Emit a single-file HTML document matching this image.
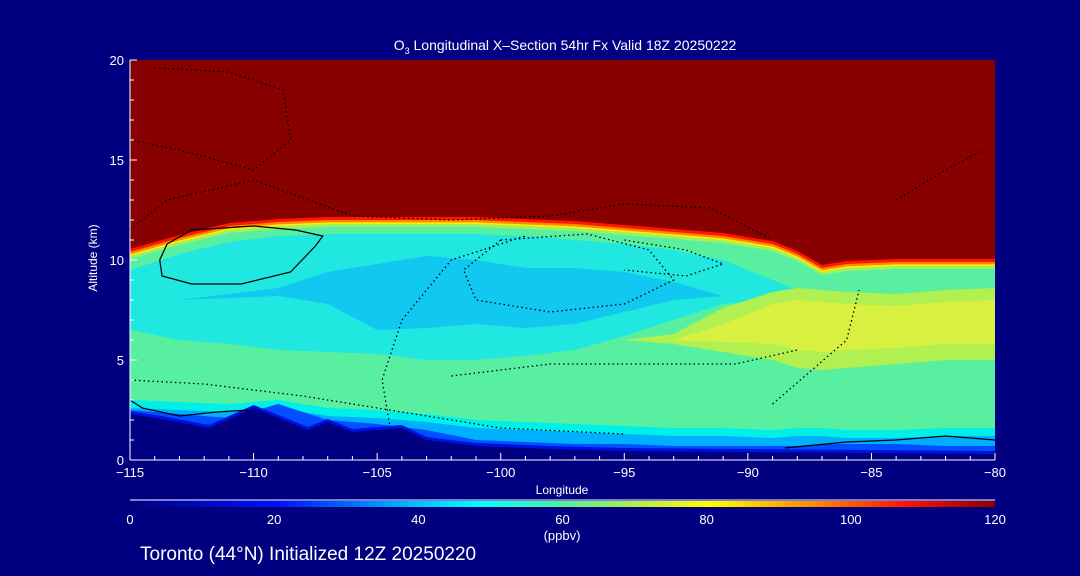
<!DOCTYPE html>
<html><head><meta charset="utf-8">
<style>
html,body{margin:0;padding:0;background:#000080;width:1080px;height:576px;overflow:hidden}
svg{display:block}
text{font-family:"Liberation Sans",sans-serif;fill:#fff}
</style></head><body>
<svg id="chart" width="1080" height="576" viewBox="0 0 1080 576">
<defs>
<linearGradient id="cbar" x1="0" x2="1" y1="0" y2="0">
<stop offset="0" stop-color="#000080"/><stop offset="0.17" stop-color="#0010ff"/>
<stop offset="0.33" stop-color="#00c0ff"/><stop offset="0.4" stop-color="#00ffff"/>
<stop offset="0.5" stop-color="#50f0a0"/><stop offset="0.6" stop-color="#c0f040"/>
<stop offset="0.67" stop-color="#ffff00"/><stop offset="0.8" stop-color="#ff8000"/>
<stop offset="0.9" stop-color="#ff1000"/><stop offset="1" stop-color="#880000"/>
</linearGradient>
<clipPath id="plotclip"><rect x="130" y="60" width="865" height="400"/></clipPath>
</defs>
<text x="565" y="50" font-size="14" text-anchor="middle">O<tspan font-size="9" dy="4">3</tspan><tspan dy="-4"> Longitudinal X–Section 54hr  Fx Valid 18Z 20250222</tspan></text>
<g id="plot" clip-path="url(#plotclip)"></g>
<g id="axes"></g>
<text transform="translate(97,258) rotate(-90)" font-size="12" text-anchor="middle">Altitude (km)</text>
<text x="562" y="494" font-size="12" text-anchor="middle">Longitude</text>
<line x1="130" y1="500" x2="995" y2="500" stroke="#fff" stroke-width="1"/>
<rect x="130" y="501" width="865" height="6" fill="url(#cbar)"/>
<g id="cbticks"></g>
<text x="562" y="540" font-size="13" text-anchor="middle">(ppbv)</text>
<text x="140" y="560" font-size="19">Toronto (44°N) Initialized 12Z 20250220</text>
</svg>
<script>
const lons = [-115,-113,-111,-109,-107,-105,-103,-101,-99,-97,-95,-93,-91,-89,-88,-87,-86,-84,-82,-80];
const tropo = [10.2,10.9,11.5,11.7,11.8,11.8,11.8,11.8,11.7,11.6,11.4,11.2,11.0,10.6,10.1,9.4,9.6,9.7,9.7,9.7];
const cyanTop = [9.5,10.3,10.9,11.2,11.3,11.3,11.3,11.3,11.2,11.0,10.8,10.5,10.0,9.0,8.5,8.2,8.2,8.0,8.0,8.0];
const cyanBot = [6.5,6.0,5.8,5.5,5.4,5.3,5.0,5.0,5.2,5.5,6.2,7.0,7.8,8.0,8.0,8.0,8.0,8.0,8.0,8.0];
const blueTop = [8,8,8.3,8.6,9.4,9.8,10.2,10.0,9.6,9.6,9.4,8.9,8.2,8,8,8,8,8,8,8];
const blueBot = [8,8,8.1,8.2,7.8,6.5,6.6,6.8,6.6,6.8,7.4,8.0,8.2,8,8,8,8,8,8,8];
const yelTop = [6,6,6,6,6,6,6,6,6,6,6,6.3,7.6,8.4,8.6,8.5,8.4,8.3,8.5,8.6];
const yelBot = [6,6,6,6,6,6,6,6,6,6,6,5.8,5.4,5.0,4.6,4.5,4.6,4.8,5.0,5.0];
const yinTop = [6,6,6,6,6,6,6,6,6,6,6,6,6.8,7.8,8.0,7.9,7.8,7.7,7.9,8.0];
const yinBot = [6,6,6,6,6,6,6,6,6,6,6,6,5.9,5.8,5.5,5.4,5.5,5.6,5.8,5.8];
const cyanLowTop = [3.0,2.9,2.8,3.0,2.6,2.5,2.3,2.0,1.9,1.8,1.7,1.6,1.6,1.5,1.6,1.6,1.5,1.5,1.6,1.6];
const blueLowTop = [2.5,2.3,2.1,2.8,2.0,1.8,1.5,1.0,0.9,0.8,0.8,0.7,0.7,0.7,0.7,0.8,0.8,0.8,0.7,0.7];
const terrLons = [-115,-113.5,-111.8,-110,-107.8,-107,-106,-104,-103,-101,-98,-95,-90,-85,-80];
const terrain = [2.3,2.0,1.6,2.6,1.5,1.9,1.4,1.6,1.0,0.7,0.55,0.45,0.4,0.35,0.3];
const xTicks = [-115,-110,-105,-100,-95,-90,-85,-80];
const yTicks = [0,5,10,15,20];
const cbLabels = [0,20,40,60,80,100,120];

const X = lon => 130 + (lon + 115) * 865 / 35;
const Y = h => 460 - h * 20;
const NS = 'http://www.w3.org/2000/svg';
const plot = document.getElementById('plot');
function band(top, bot, color, name, ls) {
  ls = ls || lons;
  let d = ls.map((l,i)=>(i?'L':'M')+X(l).toFixed(1)+','+Y(top[i]).toFixed(1)).join('');
  if (bot) { for (let i=ls.length-1;i>=0;i--) d+='L'+X(ls[i]).toFixed(1)+','+Y(bot[i]).toFixed(1); }
  else d += 'L'+X(ls[ls.length-1])+','+Y(-1)+'L'+X(ls[0])+','+Y(-1);
  const p = document.createElementNS(NS,'path');
  p.setAttribute('d', d+'Z'); p.setAttribute('fill', color);
  
  
  plot.appendChild(p);
}
const bg = document.createElementNS(NS,'rect');
bg.setAttribute('x',130);bg.setAttribute('y',60);bg.setAttribute('width',865);bg.setAttribute('height',400);bg.setAttribute('fill','#880000');


plot.appendChild(bg);
band(tropo.map(v=>v+0.35), null, '#ff1800', 'band-red');
band(tropo.map(v=>v+0.2), null, '#ff8800', 'band-orange');
band(tropo.map(v=>v+0.08), null, '#f8f000', 'band-yellow');
band(tropo, null, '#a0f060', 'band-yellowgreen');
band(tropo.map(v=>v-0.15), null, '#58f0a0', 'band-green');
band(cyanTop, cyanBot, '#20e8e0', 'band-cyan');
band(blueTop, blueBot, '#10c8f0', 'band-lightblue');
band(yelTop, yelBot, '#b0f050', 'band-right-yellowgreen');
band(yinTop, yinBot, '#d8f040', 'band-right-yellow');
band(cyanLowTop, null, '#00f0e8', 'band-low-cyan');
band(cyanLowTop.map(v=>v-0.4), null, '#00b0ff', 'band-low-lightblue');
band(blueLowTop, null, '#0050ff', 'band-low-blue');
band(terrain.map(v=>v+0.15), null, '#0010e0', 'band-surface-blue', terrLons);
band(terrain, null, '#000080', 'terrain', terrLons);

function line(pts, dash, name) {
  const p = document.createElementNS(NS,'polyline');
  p.setAttribute('points', pts.map(q=>X(q[0]).toFixed(1)+','+Y(q[1]).toFixed(1)).join(' '));
  p.setAttribute('fill','none'); p.setAttribute('stroke','#000'); p.setAttribute('stroke-width', dash?1.3:1.2);
  if (dash) p.setAttribute('stroke-dasharray','1.5,3');
  
  
  plot.appendChild(p);
}
line([[-113.5,10.8],[-112.5,11.5],[-110,11.7],[-108.3,11.5],[-107.2,11.2],[-107.5,10.7],[-108.5,9.4],[-110.5,8.8],[-112.5,8.8],[-113.7,9.2],[-113.8,10],[-113.5,10.8]], false, 'contour-zero-loop');
line([[-115,3],[-114.5,2.6],[-113,2.2],[-111.5,2.4],[-110.2,2.5]], false, 'contour-zero-low');
line([[-88.5,0.6],[-86,0.9],[-84,1.0],[-82,1.2],[-80,1.0]], false, 'contour-zero-right');
line([[-114,19.6],[-111,19.4],[-108.8,18.5],[-108.5,16],[-110,14.5],[-113,15.5],[-115,16]], true, 'contour-neg10-top');
line([[-115,11.5],[-113.5,13],[-110,14],[-106,12.2],[-102,12],[-98,12.2],[-95,12.8],[-91.5,12.6],[-89,11]], true, 'contour-neg10-upper');
line([[-104.5,1.8],[-104.8,4],[-104,7],[-102,10],[-99,11.2]], true, 'contour-neg10-left');
line([[-100,11],[-101.5,9.5],[-101,8],[-98,7.4],[-95,7.8],[-93,9],[-94,10.5],[-96.5,11.3],[-100,11]], true, 'contour-neg20');
line([[-95,11],[-92.5,10.5],[-91,9.8],[-92.5,9.2],[-95,9.5]], true, 'contour-neg30');
line([[-102,4.2],[-98,4.8],[-94,4.8],[-90.5,4.8],[-88,5.5]], true, 'contour-neg10-mid');
line([[-89,2.8],[-86,6],[-85.5,8.5]], true, 'contour-right');
line([[-84,13],[-82,14.5],[-80.5,15.5]], true, 'contour-upper-right');
line([[-115,4],[-112,3.8],[-108,3.2],[-104,2.4],[-100,1.6],[-95,1.3]], true, 'contour-low');

const ax = document.getElementById('axes');
function mk(tag, attrs, name, txt){const e=document.createElementNS(NS,tag);for(const k in attrs)e.setAttribute(k,attrs[k]);if(txt!==undefined)e.textContent=txt;ax.appendChild(e);return e;}
mk('line',{x1:130,y1:460,x2:995,y2:460,stroke:'#fff'},'x-axis-line');
mk('line',{x1:130,y1:60,x2:130,y2:460,stroke:'#fff'},'y-axis-line');
for(let l=-115;l<=-80;l++){const major=l%5===0;mk('line',{x1:X(l),y1:460,x2:X(l),y2:major?453:456,stroke:'#fff'},'x-tick');}
for(let h=0;h<=20;h++){const major=h%5===0;mk('line',{x1:130,y1:Y(h),x2:major?137:134,y2:Y(h),stroke:'#fff'},'y-tick');}
xTicks.forEach(l=>mk('text',{x:X(l),y:477,'font-size':13,'text-anchor':'middle'},'x-tick-label',(l<0?'−':'')+Math.abs(l)));
yTicks.forEach(h=>mk('text',{x:124,y:Y(h)+5,'font-size':13,'text-anchor':'end'},'y-tick-label',h));
const cb=document.getElementById('cbticks');
cbLabels.forEach((v,i)=>{const t=document.createElementNS(NS,'text');t.setAttribute('x',130+v/120*865);t.setAttribute('y',524);t.setAttribute('font-size',13);t.setAttribute('text-anchor','middle');t.textContent=v;


cb.appendChild(t);});
</script>
</body></html>
